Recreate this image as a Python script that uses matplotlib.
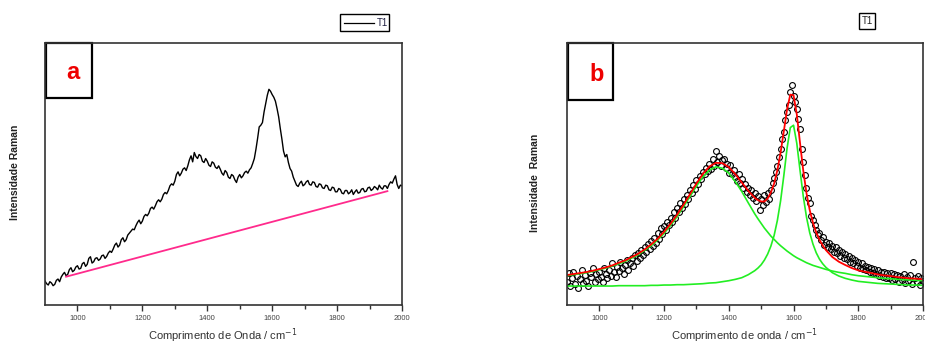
import matplotlib
matplotlib.use('Agg')
import matplotlib.pyplot as plt
import numpy as np
from matplotlib.patches import Rectangle
from matplotlib.lines import Line2D

plt.rcParams['font.family'] = ['Liberation Sans', 'DejaVu Sans']

# ---- panel a: raw spectrum (every 5 cm-1) and linear baseline ----
wn_a = np.arange(900, 2001, 5)
raman_a = [
    72, 64, 60, 70, 66, 58, 62, 74, 78, 70, 84, 92, 98, 88, 92, 106, 112, 100, 104, 114,
    118, 108, 110, 124, 128, 116, 122, 140, 145, 126, 130, 140, 142, 134, 138, 148, 150, 140, 146, 156,
    162, 158, 168, 180, 186, 174, 180, 196, 202, 190, 196, 210, 216, 222, 228, 226, 238, 248, 255, 244,
    252, 266, 272, 268, 276, 290, 294, 288, 298, 310, 316, 310, 318, 332, 338, 334, 344, 358, 364, 360,
    372, 392, 400, 388, 396, 408, 412, 404, 418, 436, 448, 430, 458, 446, 440, 452, 448, 432, 428, 440,
    432, 420, 416, 430, 426, 414, 410, 418, 408, 396, 390, 404, 398, 384, 380, 392, 388, 376, 368, 384,
    392, 382, 388, 398, 402, 396, 406, 412, 425, 440, 468, 500, 535, 540, 548, 580, 605, 630, 648, 642,
    632, 624, 612, 590, 565, 530, 498, 462, 445, 452, 428, 410, 402, 384, 372, 360, 356, 366, 372, 358,
    362, 370, 374, 362, 360, 370, 368, 356, 354, 364, 362, 352, 350, 360, 358, 346, 344, 354, 352, 340,
    340, 350, 347, 336, 334, 344, 344, 334, 338, 346, 332, 340, 346, 336, 338, 348, 350, 340, 342, 352,
    354, 344, 348, 356, 352, 346, 360, 352, 348, 358, 358, 350, 362, 370, 366, 378, 388, 362, 350, 360,
    358,
]
base_wn = [965, 1955]
base_val = [85, 342]

# ---- panel b: baseline-corrected data (every 5 cm-1) and Lorentzian fit ----
wn_b = np.arange(900, 2001, 5)
raman_b = [
    70, 95, 58, 82, 100, 62, 88, 50, 78, 105, 66, 90, 72, 58, 96, 84, 110, 68, 92, 78,
    100, 85, 70, 112, 94, 80, 104, 88, 125, 98, 84, 115, 102, 128, 110, 92, 120, 136, 105, 125,
    140, 118, 150, 132, 155, 142, 166, 150, 175, 160, 182, 168, 192, 178, 200, 186, 215, 198, 230, 214,
    238, 225, 250, 240, 262, 248, 280, 262, 290, 278, 305, 292, 318, 304, 330, 318, 345, 335, 360, 348,
    375, 362, 388, 378, 400, 392, 412, 402, 425, 410, 440, 418, 462, 430, 448, 418, 435, 440, 412, 425,
    398, 420, 392, 405, 385, 372, 395, 365, 378, 350, 362, 340, 352, 330, 345, 322, 335, 312, 326, 285,
    318, 300, 330, 310, 335, 318, 345, 365, 380, 400, 418, 445, 470, 500, 520, 555, 580, 600, 640, 660,
    628, 610, 590, 560, 530, 470, 430, 390, 350, 320, 305, 268, 255, 240, 225, 210, 215, 195, 205, 180,
    190, 175, 185, 168, 178, 160, 175, 155, 165, 148, 160, 142, 152, 138, 148, 130, 140, 125, 135, 118,
    130, 112, 125, 108, 118, 104, 115, 100, 110, 96, 108, 92, 104, 88, 100, 85, 98, 80, 95, 82,
    96, 75, 92, 78, 90, 70, 88, 76, 92, 66, 85, 72, 90, 62, 130, 80, 70, 88, 60, 82,
    72,
]

fit_wn = [
    900, 920, 940, 960, 980, 1000, 1020, 1040, 1060, 1080,
    1100, 1120, 1140, 1160, 1180, 1200, 1220, 1240, 1260, 1280,
    1300, 1320, 1340, 1360, 1380, 1400, 1420, 1440, 1460, 1480,
    1490, 1500, 1510, 1520, 1530, 1540, 1550, 1560, 1570, 1580,
    1590, 1600, 1610, 1620, 1630, 1640, 1650, 1660, 1670, 1680,
    1690, 1700, 1720, 1740, 1760, 1780, 1800, 1820, 1840, 1860,
    1880, 1900, 1920, 1940, 1960, 1980, 2000,
]
band_d = [
    88, 91, 94, 97, 101, 106, 111, 117, 124, 131,
    141, 151, 164, 178, 195, 215, 239, 265, 295, 326,
    357, 385, 405, 415, 411, 396, 371, 341, 307, 274,
    259, 245, 231, 219, 207, 197, 187, 178, 170, 162,
    155, 148, 142, 137, 132, 127, 123, 119, 116, 113,
    110, 107, 102, 98, 95, 91, 88, 86, 84, 82,
    80, 79, 77, 76, 75, 74, 73,
]
band_g = [
    57, 57, 57, 57, 57, 57, 57, 57, 58, 58,
    58, 58, 58, 59, 59, 60, 60, 61, 61, 62,
    63, 64, 66, 67, 70, 73, 77, 82, 91, 103,
    111, 121, 135, 153, 177, 209, 254, 313, 389, 471,
    533, 540, 486, 405, 327, 264, 217, 183, 157, 138,
    124, 113, 97, 87, 80, 75, 71, 69, 67, 65,
    64, 63, 62, 61, 60, 60, 59,
]
fit_total = [
    90, 93, 96, 99, 103, 108, 113, 119, 127, 134,
    144, 154, 167, 182, 199, 220, 244, 271, 301, 333,
    365, 394, 416, 427, 426, 414, 393, 368, 343, 322,
    315, 311, 311, 320, 338, 365, 405, 458, 522, 588,
    632, 630, 573, 487, 404, 336, 285, 247, 218, 196,
    179, 165, 144, 130, 120, 111, 104, 100, 96, 92,
    89, 87, 84, 82, 80, 79, 77,
]

W, H = 925, 345


def fx(px):
    return px / W


def fy(py):
    return 1 - py / H


def style_axes(ax):
    ax.set_xlim(900, 2000)
    ax.set_ylim(0, 787)
    ax.set_yticks([])
    ax.set_xticks(range(1000, 2001, 200))
    ax.set_xticks(range(1100, 2000, 200), minor=True)
    ax.tick_params(axis='x', which='major', direction='out', length=4, width=1,
                   labelsize=5.5, labelcolor='#444444', pad=3, color='#333333')
    ax.tick_params(axis='x', which='minor', direction='out', length=3, width=1,
                   color='#333333')
    for s in ax.spines.values():
        s.set_linewidth(1.2)
        s.set_color('#333333')


fig = plt.figure(figsize=(W / 100, H / 100), dpi=100)
ax_a = fig.add_axes([fx(45), fy(305), (402 - 45) / W, 262 / H])
ax_b = fig.add_axes([fx(567), fy(305), (923 - 567) / W, 262 / H])

# panel a
ax_a.plot(wn_a, raman_a, color='black', lw=1.0)
ax_a.plot(base_wn, base_val, color='#ff2a8c', lw=1.3)
style_axes(ax_a)

# panel b
ax_b.plot(wn_b, raman_b, linestyle='none', marker='o', markersize=4.2,
          markerfacecolor='none', markeredgecolor='black', markeredgewidth=0.8)
ax_b.plot(fit_wn, band_d, color='#22ee22', lw=1.2)
ax_b.plot(fit_wn, band_g, color='#22ee22', lw=1.2)
ax_b.plot(fit_wn, fit_total, color='#ff0000', lw=1.3)
style_axes(ax_b)

# panel letters in boxes
for ax, letter, w, h, tx, ty in [(ax_a, 'a', 0.129, 0.21, 0.078, 0.886),
                                 (ax_b, 'b', 0.126, 0.218, 0.083, 0.878)]:
    ax.add_patch(Rectangle((0.004, 1 - h), w, h, transform=ax.transAxes,
                           fill=False, edgecolor='black', lw=1.6, clip_on=False))
    ax.text(tx, ty, letter, transform=ax.transAxes, color='#ee0000',
            fontsize=17, fontweight='bold', ha='center', va='center')

# axis labels
fig.text(fx(223), fy(336), 'Comprimento de Onda / cm$^{-1}$', ha='center',
         va='center', fontsize=8, color='#333333')
fig.text(fx(745), fy(336), 'Comprimento de onda / cm$^{-1}$', ha='center',
         va='center', fontsize=8, color='#333333')
fig.text(fx(15), fy(172), 'Intensidade Raman', rotation=90, ha='center',
         va='center', fontsize=7.5, fontweight='bold', color='#222222')
fig.text(fx(535), fy(183), 'Intensidade  Raman', rotation=90, ha='center',
         va='center', fontsize=7.5, fontweight='bold', color='#222222')

# small legends above the panels
fig.add_artist(Rectangle((fx(340), fy(31)), (389 - 340) / W, 17 / H,
                         transform=fig.transFigure, fill=False,
                         edgecolor='black', lw=1.0))
fig.add_artist(Line2D([fx(344), fx(374)], [fy(22.5), fy(22.5)],
                      transform=fig.transFigure, color='black', lw=0.9))
fig.text(fx(377), fy(22.5), 'T1', ha='left', va='center', fontsize=7,
         color='#222244')
fig.add_artist(Rectangle((fx(859), fy(29)), 16 / W, 16 / H,
                         transform=fig.transFigure, fill=False,
                         edgecolor='black', lw=1.0))
fig.text(fx(867), fy(21), 'T1', ha='center', va='center', fontsize=7,
         color='#222222')

fig.savefig('out.png', dpi=100, facecolor='white')
